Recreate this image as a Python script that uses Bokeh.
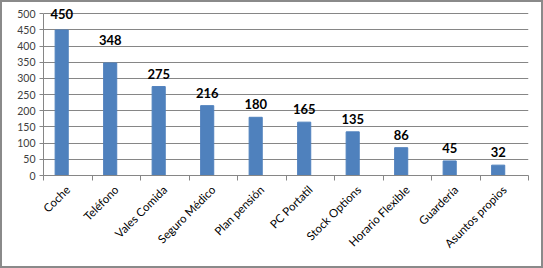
import math
from bokeh.plotting import figure
from bokeh.models import ColumnDataSource, Range1d, FixedTicker, LabelSet
from bokeh.core.properties import value
from bokeh.embed import file_html
from bokeh.resources import INLINE

categories = ["Coche", "Teléfono", "Vales Comida", "Seguro Médico", "Plan pensión",
              "PC Portatil", "Stock Options", "Horario Flexible", "Guardería", "Asuntos propios"]
values = [450, 348, 275, 216, 180, 165, 135, 86, 45, 32]
y_ticks = [0, 50, 100, 150, 200, 250, 300, 350, 400, 450, 500]
label_nudge = [3, 10, 0, 0, 0, 0, 0, 0, 0, 0]

n = len(categories)
centers = [i + 0.5 for i in range(n)]
bar_x = [c - 0.125 for c in centers]
src = ColumnDataSource(dict(x=bar_x, top=values, txt=[str(v) for v in values],
                            dy=[8 + d for d in label_nudge]))

p = figure(width=543, height=268, output_backend="svg", toolbar_location=None,
           x_range=Range1d(0, n), y_range=Range1d(0, 535),
           min_border_left=41, min_border_right=17, min_border_top=0, min_border_bottom=95)
p.styles = {"border": "2px solid #8a8a8a"}
p.outline_line_color = None
p.background_fill_color = "white"
p.border_fill_color = "white"

p.vbar(x="x", top="top", bottom=0, width=0.27, source=src,
       fill_color="#4F81BD", line_color="#4F81BD")

labels = LabelSet(x="x", y="top", text="txt", source=src, y_offset="dy",
                  text_align="center", text_baseline="bottom",
                  text_font=value("Lato"), text_font_style="bold", text_font_size="13px",
                  text_color="#000000")
p.add_layout(labels)

# x axis
p.xaxis.ticker = FixedTicker(ticks=centers, minor_ticks=list(range(n + 1)))
p.xaxis.major_label_overrides = {c: lab for c, lab in zip(centers, categories)}
p.xaxis.major_label_orientation = math.pi / 4
p.xaxis.major_tick_out = 0
p.xaxis.major_tick_in = 0
p.xaxis.minor_tick_out = 5
p.xaxis.minor_tick_in = 0
p.xaxis.minor_tick_line_color = "#868686"
p.xaxis.axis_line_color = "#868686"
p.xaxis.major_label_text_font = "Lato"
p.xaxis.major_label_text_font_size = "11.5px"
p.xaxis.major_label_text_color = "#000000"
p.xaxis.major_label_standoff = 7

# y axis
p.yaxis.ticker = FixedTicker(ticks=y_ticks)
p.yaxis.bounds = (0, 500)
p.yaxis.major_tick_out = 4
p.yaxis.major_tick_in = 0
p.yaxis.minor_tick_line_color = None
p.yaxis.axis_line_color = "#868686"
p.yaxis.major_tick_line_color = "#868686"
p.yaxis.major_label_text_font = "Lato"
p.yaxis.major_label_text_font_size = "10.5px"
p.yaxis.major_label_text_color = "#404040"
p.yaxis.major_label_standoff = 4

p.xgrid.grid_line_color = None
p.ygrid.grid_line_color = "#868686"
p.ygrid.ticker = FixedTicker(ticks=y_ticks)

open("out.html", "w").write(file_html(p, INLINE))
